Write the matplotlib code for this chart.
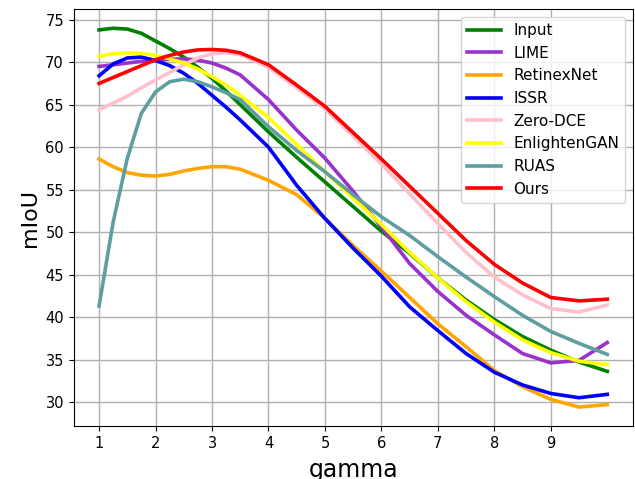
import matplotlib
matplotlib.use("Agg")
import matplotlib.pyplot as plt

gamma = [1, 1.25, 1.5, 1.75, 2, 2.25, 2.5, 2.75, 3, 3.25, 3.5, 4, 4.5, 5, 5.5, 6, 6.5, 7, 7.5, 8, 8.5, 9, 9.5, 10]

input_v = [73.8, 74.0, 73.9, 73.4, 72.5, 71.6, 70.6, 69.4, 68.1, 66.6, 65.0, 61.8, 58.8, 55.9, 53.0, 50.1, 47.5, 44.6, 42.0, 39.7, 37.7, 36.1, 34.7, 33.6]
lime = [69.5, 69.7, 69.9, 70.1, 70.2, 70.35, 70.4, 70.25, 69.9, 69.3, 68.5, 65.6, 62.0, 58.7, 54.8, 50.6, 46.3, 43.0, 40.2, 37.9, 35.7, 34.6, 34.9, 37.0]
retinexnet = [58.6, 57.7, 57.0, 56.7, 56.6, 56.8, 57.2, 57.5, 57.7, 57.7, 57.4, 56.1, 54.4, 51.6, 48.4, 45.4, 42.3, 39.2, 36.5, 33.7, 31.8, 30.3, 29.4, 29.7]
issr = [68.4, 69.8, 70.5, 70.6, 70.2, 69.6, 68.7, 67.5, 66.1, 64.7, 63.2, 60.0, 55.5, 51.6, 48.1, 44.8, 41.2, 38.4, 35.7, 33.5, 32.0, 31.0, 30.5, 30.9]
zerodce = [64.4, 65.2, 66.0, 67.0, 67.9, 68.8, 69.7, 70.5, 71.0, 71.1, 70.9, 69.4, 67.0, 64.5, 61.3, 58.0, 54.5, 51.0, 47.6, 44.7, 42.6, 41.0, 40.6, 41.4]
enlightengan = [70.7, 71.0, 71.1, 71.05, 70.8, 70.4, 69.9, 69.2, 68.3, 67.3, 66.1, 63.5, 60.3, 57.1, 54.0, 50.9, 47.6, 44.6, 41.8, 39.4, 37.3, 35.8, 34.8, 34.4]
ruas = [41.3, 51.2, 58.7, 64.0, 66.5, 67.7, 68.0, 67.7, 67.1, 66.4, 65.6, 62.4, 59.6, 57.1, 54.4, 51.8, 49.6, 47.1, 44.7, 42.4, 40.2, 38.3, 36.9, 35.6]
ours = [67.5, 68.2, 68.9, 69.6, 70.3, 70.8, 71.2, 71.45, 71.5, 71.4, 71.1, 69.7, 67.3, 64.8, 61.7, 58.6, 55.4, 52.2, 49.0, 46.2, 44.0, 42.3, 41.9, 42.1]

labels = ["Input", "LIME", "RetinexNet", "ISSR", "Zero-DCE", "EnlightenGAN", "RUAS", "Ours"]
colors = ["green", "darkorchid", "orange", "blue", "pink", "yellow", "cadetblue", "red"]
values = [input_v, lime, retinexnet, issr, zerodce, enlightengan, ruas, ours]

fig = plt.figure(figsize=(6.35, 4.79), dpi=100)
ax = fig.add_axes([0.116, 0.1106, 0.8804, 0.87])

for ys, lab, col in zip(values, labels, colors):
    ax.plot(gamma, ys, color=col, lw=2.6, label=lab, solid_joinstyle="round")

ax.set_xticks(range(1, 10))
ax.set_yticks(range(30, 80, 5))
ax.tick_params(labelsize=10.5)
ax.grid(True, color="#b0b0b0", lw=1)
ax.set_xlabel("gamma", fontsize=17, labelpad=5)
ax.set_ylabel("mIoU", fontsize=16)
ax.legend(loc="upper right", fontsize=11, handlelength=2.2)

fig.savefig("out.png", dpi=100)
